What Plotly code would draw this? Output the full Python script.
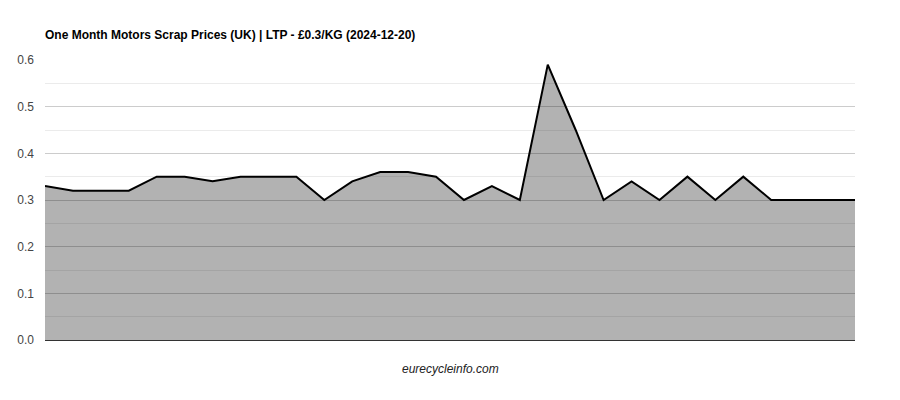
import plotly.graph_objects as go

# One month of daily LTP readings (GBP/kg)
prices = [0.33, 0.32, 0.32, 0.32, 0.35, 0.35, 0.34, 0.35, 0.35, 0.35,
          0.30, 0.34, 0.36, 0.36, 0.35, 0.30, 0.33, 0.30, 0.59, 0.45,
          0.30, 0.34, 0.30, 0.35, 0.30, 0.35, 0.30, 0.30, 0.30, 0.30]
days = list(range(len(prices)))
y_ticks = [0.0, 0.1, 0.2, 0.3, 0.4, 0.5, 0.6]

title = "One Month Motors Scrap Prices (UK) | LTP - £0.3/KG (2024-12-20)"

# page body has an 8px margin, so the figure is sized/offset to compensate
W, H = 892, 392

fig = go.Figure()
fig.add_trace(go.Scatter(
    x=days, y=prices, mode='lines', fill='tozeroy',
    fillcolor='rgba(0,0,0,0.3)',
    line=dict(color='black', width=2),
    hoverinfo='y'
))

fig.update_layout(
    width=W, height=H,
    paper_bgcolor='white', plot_bgcolor='white',
    font=dict(family='Liberation Sans, Arial', size=12, color='#444'),
    margin=dict(l=37, r=45, t=52, b=60),
    showlegend=False,
    title=dict(text=f'<b>{title}</b>', x=37 / W, xanchor='left',
               y=1 - 27 / H, yanchor='middle',
               font=dict(size=12, color='black')),
    annotations=[dict(
        text='<i>eurecycleinfo.com</i>', xref='paper', yref='paper',
        x=0.5, y=-29 / 280, xanchor='center', yanchor='middle',
        showarrow=False, font=dict(size=12, color='#222')
    )]
)

fig.update_xaxes(range=[0, len(prices) - 1], showgrid=False, zeroline=False,
                 showticklabels=False, ticks='', showline=True,
                 linecolor='#333', linewidth=1, automargin=False)
fig.update_yaxes(range=[0, 0.6], tickvals=y_ticks,
                 ticktext=[f'{v:.1f}' for v in y_ticks],
                 showgrid=True, gridcolor='#ccc', gridwidth=1,
                 minor=dict(dtick=0.05, showgrid=True, gridcolor='#ebebeb'),
                 zeroline=False, ticks='', ticklabelstandoff=10,
                 automargin=False)

fig.write_html("out.html")
